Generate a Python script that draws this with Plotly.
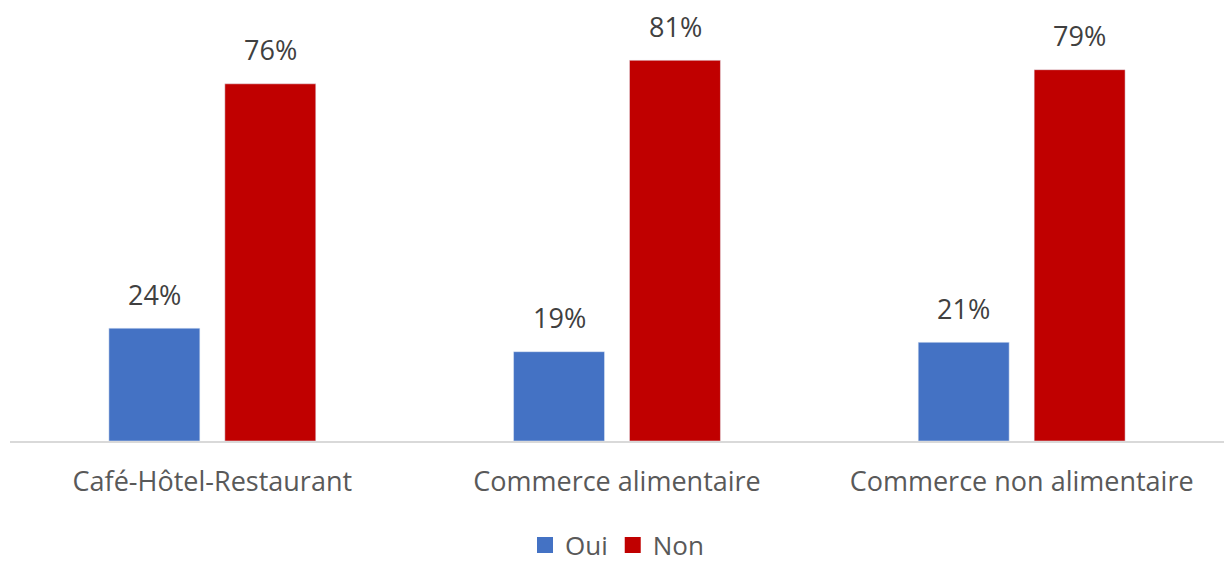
import plotly.graph_objects as go

categories = ["Café-Hôtel-Restaurant", "Commerce alimentaire", "Commerce non alimentaire"]
oui = [0.24, 0.19, 0.21]
non = [0.76, 0.81, 0.79]
series_names = ["Oui", "Non"]
colors = ["#4472C4", "#C00000"]

FONT = "Open Sans"
FS = 27

fig = go.Figure()
for name, vals, col in zip(series_names, [oui, non], colors):
    fig.add_trace(go.Bar(
        x=categories, y=vals, name=name, marker_color=col,
        textposition="none", showlegend=False,
    ))
# legend entries with larger square markers
for name, col in zip(series_names, colors):
    fig.add_trace(go.Scatter(
        x=[None], y=[None], mode="markers", name=name,
        marker=dict(symbol="square", size=19, color=col),
    ))

# data labels as annotations above bars
offsets = [-58, 58]
for vals, dx in zip([oui, non], offsets):
    for c, v in zip(categories, vals):
        fig.add_annotation(x=c, y=v, text=f"{v*100:.0f}%", showarrow=False,
                           xshift=dx, yshift=34, yanchor="middle",
                           font=dict(family=FONT, size=FS, color="#404040"))

fig.update_layout(
    width=1224, height=562,
    margin=dict(l=10, r=0, t=18, b=121, autoexpand=False),
    paper_bgcolor="white", plot_bgcolor="white",
    barmode="group", bargap=0.427, bargroupgap=0.2155,
    font=dict(family=FONT, size=FS, color="#595959"),
    showlegend=True,
    legend=dict(orientation="h", x=0.5, xanchor="center",
                yref="container", y=0.03, yanchor="middle",
                font=dict(size=26, color="#595959"), traceorder="normal",
                itemwidth=30, tracegroupgap=0),
    xaxis=dict(showline=True, linecolor="#D9D9D9", linewidth=2, ticks="",
               ticklabelstandoff=16, automargin=False,
               tickfont=dict(size=FS, color="#595959")),
    yaxis=dict(range=[0, 0.9], visible=False, showgrid=False, automargin=False),
)
fig.write_html("out.html")
